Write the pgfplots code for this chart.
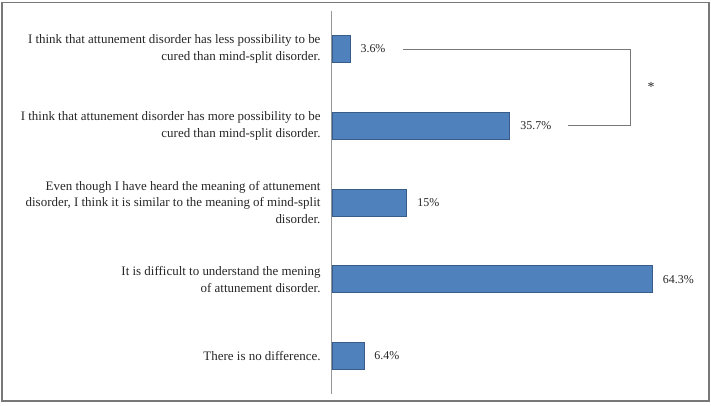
\documentclass[border=0pt]{standalone}
\usepackage{pgfplots}
\pgfplotsset{compat=1.18}
\usepackage{fontspec}
\setmainfont{Liberation Serif}
\definecolor{barfill}{RGB}{79,129,189}
\definecolor{baredge}{RGB}{56,93,138}
\definecolor{framegray}{RGB}{120,120,120}
\definecolor{axgray}{RGB}{150,150,150}
\begin{document}
\begin{tikzpicture}
\useasboundingbox (-332bp,-11.6bp) rectangle (379bp,394.4bp);
\draw[framegray, line width=1.1bp] (-330bp,-6.6bp) rectangle (377bp,391.9bp);
\begin{axis}[
  at={(0,0)}, anchor=south west,
  scale only axis, width=373.5bp, height=383.75bp,
  xmin=0, xmax=75, ymin=-0.5, ymax=4.5, y dir=reverse,
  xbar, bar width=27bp, bar shift=0pt,
  axis x line=none, axis y line*=left,
  axis line style={draw=axgray, line width=1bp},
  ytick={0,1,2,3,4},
  yticklabels={
    {I think that attunement disorder has less possibility to be\\cured than mind-split disorder.},
    {I think that attunement disorder has more possibility to be\\cured than mind-split disorder.},
    {Even though I have heard the meaning of attunement\\disorder, I think it is similar to the meaning of mind-split\\disorder.},
    {It is difficult to understand the mening\\of attunement disorder.},
    {There is no difference.}},
  yticklabel style={align=right, anchor=east, xshift=-8bp, font=\fontsize{13}{17}\selectfont, text=black!85},
  major tick length=0pt, tick style={draw=none},
  clip=false,
]
\addplot[fill=barfill, draw=baredge, line width=0.6bp,
  point meta=explicit symbolic,
  nodes near coords,
  nodes near coords style={anchor=west, xshift=7bp, font=\fontsize{12}{14}\selectfont, text=black!85}]
  coordinates {
    (3.6,0) [3.6\%]
    (35.7,1) [35.7\%]
    (15,2) [15\%]
    (64.3,3) [64.3\%]
    (6.4,4) [6.4\%]
  };
\draw[framegray, line width=0.8bp] (axis cs:14.3,0) -- (axis cs:60,0) -- (axis cs:60,1) -- (axis cs:47.4,1);
\node[font=\fontsize{14}{14}\selectfont, text=black!85] at (axis cs:64.1,0.5) {*};
\end{axis}
\end{tikzpicture}
\end{document}
